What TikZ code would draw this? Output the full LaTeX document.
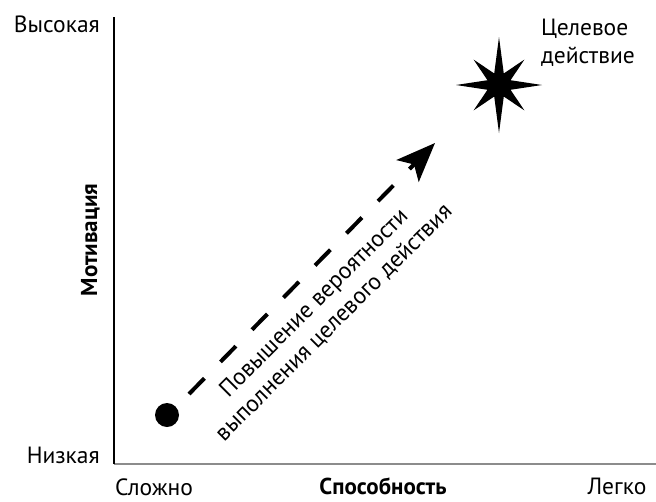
\documentclass[tikz,border=0pt]{standalone}
\usepackage{fontspec}
\setmainfont{PT Sans}
\usetikzlibrary{arrows.meta,calc}
\tikzset{
  lbl/.style={inner sep=0pt, font=\fontsize{23.5}{28}\selectfont},
  blbl/.style={inner sep=0pt, font=\fontsize{23}{28}\selectfont\bfseries},
  axisv/.style={line width=1.3pt, black},
  axish/.style={line width=2pt, black!45},
  flow/.style={line width=4pt, dash pattern=on 22pt off 23pt,
    -{Stealth[length=39pt,width=31pt,inset=9pt]}},
}
\begin{document}
\begin{tikzpicture}[x=1pt,y=-1pt]
\useasboundingbox (0,0) rectangle (656,501);
% axes
\coordinate (o) at (114,464);
\coordinate (ytop) at (114,17);
\coordinate (xend) at (656,464);
\draw[axish] (o) -- (xend);
\draw[axisv] (ytop) -- (o);
% axis labels
\node[lbl, anchor=base east] (high) at (100,32) {Высокая};
\node[lbl, anchor=base east] (low) at (100,463) {Низкая};
\node[lbl, anchor=base] (hard) at (154,495) {Сложно};
\node[blbl, anchor=base] (abil) at (383,494) {Способность};
\node[lbl, anchor=base] (easy) at (617,494) {Легко};
\node[blbl, rotate=90, anchor=base] (motiv) at (97,240) {Мотивация};
% start dot
\node[circle, fill=black, minimum size=24pt, inner sep=0pt] (dot) at (167,415) {};
% target star
\coordinate (star) at (499,85);
\fill[black]
  ($(star)+(0:43)$)
  -- ($(star)+(22.5:12.5)$) -- ($(star)+(45:36)$) -- ($(star)+(67.5:12.5)$)
  -- ($(star)+(90:48)$) -- ($(star)+(112.5:12.5)$) -- ($(star)+(135:36)$)
  -- ($(star)+(157.5:12.5)$) -- ($(star)+(180:43)$) -- ($(star)+(202.5:12.5)$)
  -- ($(star)+(225:36)$) -- ($(star)+(247.5:12.5)$) -- ($(star)+(270:48)$)
  -- ($(star)+(292.5:12.5)$) -- ($(star)+(315:36)$) -- ($(star)+(337.5:12.5)$)
  -- cycle;
\node[lbl, align=left, anchor=north west] (goal) at (541,19) {Целевое\\действие};
% arrow
\coordinate (a1) at (189,394);
\coordinate (a2) at (435,143);
\draw[flow] (a1) -- (a2);
\node[lbl, rotate=45, align=center] (note) at (324,313)
  {Повышение вероятности\\выполнения целевого действия};
\end{tikzpicture}
\end{document}
